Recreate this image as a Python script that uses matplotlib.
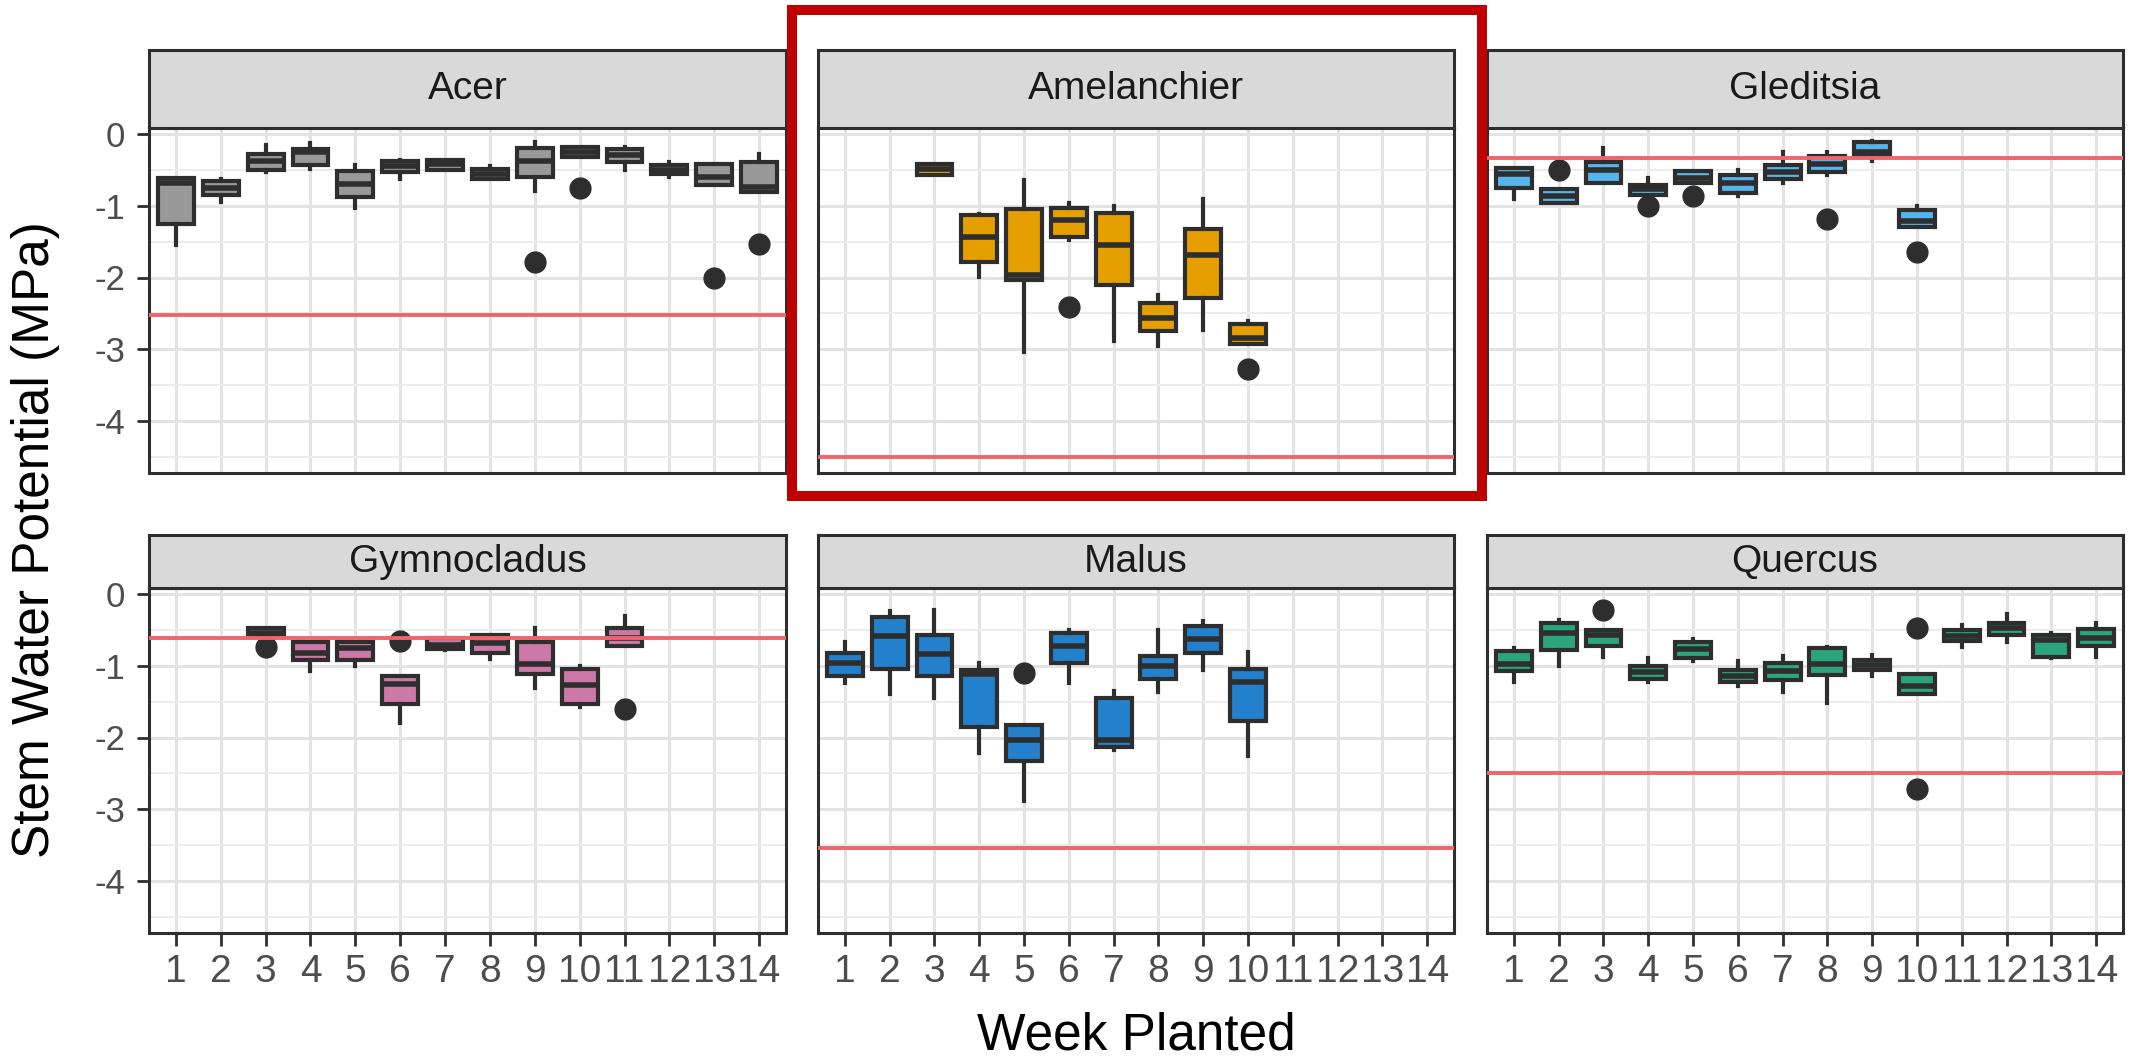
import matplotlib.pyplot as plt
from matplotlib.patches import Rectangle

# stem water potential by week planted, one facet per genus
# rows: (week, whisker low, q1, median, q3, whisker high)
acer = [
    (1, -1.55, -1.26, -0.68, -0.62, -0.62),
    (2, -0.95, -0.85, -0.75, -0.66, -0.63),
    (3, -0.53, -0.50, -0.38, -0.28, -0.16),
    (4, -0.49, -0.44, -0.26, -0.21, -0.13),
    (5, -1.03, -0.88, -0.70, -0.52, -0.44),
    (6, -0.63, -0.53, -0.45, -0.38, -0.37),
    (7, -0.50, -0.50, -0.42, -0.36, -0.36),
    (8, -0.63, -0.63, -0.56, -0.49, -0.45),
    (9, -0.80, -0.60, -0.38, -0.20, -0.12),
    (10, -0.32, -0.32, -0.25, -0.19, -0.19),
    (11, -0.51, -0.39, -0.30, -0.21, -0.19),
    (12, -0.60, -0.56, -0.50, -0.43, -0.39),
    (13, -0.71, -0.71, -0.60, -0.42, -0.42),
    (14, -0.81, -0.81, -0.74, -0.39, -0.28),
]
acer_out = [(9, -1.78), (10, -0.75), (13, -2.01), (14, -1.54)]

amelanchier = [
    (3, -0.57, -0.57, -0.49, -0.42, -0.42),
    (4, -1.99, -1.79, -1.44, -1.13, -1.11),
    (5, -3.03, -2.04, -1.97, -1.04, -0.65),
    (6, -1.48, -1.44, -1.20, -1.03, -0.97),
    (7, -2.89, -2.11, -1.55, -1.10, -1.00),
    (8, -2.95, -2.75, -2.57, -2.36, -2.25),
    (9, -2.73, -2.28, -1.69, -1.32, -0.91),
    (10, -2.93, -2.93, -2.84, -2.65, -2.61),
]
amelanchier_out = [(6, -2.41), (10, -3.27)]

gleditsia = [
    (1, -0.91, -0.76, -0.56, -0.48, -0.48),
    (2, -0.97, -0.97, -0.87, -0.77, -0.77),
    (3, -0.68, -0.68, -0.50, -0.39, -0.20),
    (4, -0.85, -0.85, -0.77, -0.71, -0.62),
    (5, -0.69, -0.69, -0.61, -0.52, -0.52),
    (6, -0.87, -0.83, -0.69, -0.57, -0.50),
    (7, -0.68, -0.63, -0.53, -0.43, -0.26),
    (8, -0.58, -0.53, -0.42, -0.31, -0.26),
    (9, -0.38, -0.30, -0.25, -0.12, -0.10),
    (10, -1.30, -1.30, -1.22, -1.06, -1.00),
]
gleditsia_out = [(2, -0.51), (4, -1.01), (5, -0.87), (8, -1.19), (10, -1.65)]

gymnocladus = [
    (3, -0.60, -0.60, -0.55, -0.48, -0.48),
    (4, -1.08, -0.92, -0.82, -0.67, -0.67),
    (5, -1.00, -0.92, -0.75, -0.67, -0.67),
    (6, -1.80, -1.54, -1.26, -1.15, -1.15),
    (7, -0.78, -0.77, -0.71, -0.62, -0.62),
    (8, -0.91, -0.82, -0.69, -0.57, -0.57),
    (9, -1.31, -1.11, -0.98, -0.67, -0.47),
    (10, -1.58, -1.54, -1.27, -1.05, -1.00),
    (11, -0.72, -0.72, -0.62, -0.48, -0.31),
]
gymnocladus_out = [(3, -0.74), (6, -0.66), (11, -1.60)]

malus = [
    (1, -1.24, -1.14, -0.97, -0.82, -0.67),
    (2, -1.40, -1.04, -0.59, -0.32, -0.24),
    (3, -1.45, -1.14, -0.84, -0.58, -0.22),
    (4, -2.21, -1.86, -1.12, -1.06, -0.97),
    (5, -2.88, -2.33, -2.03, -1.82, -1.82),
    (6, -1.24, -0.97, -0.72, -0.55, -0.51),
    (7, -2.18, -2.13, -2.03, -1.45, -1.35),
    (8, -1.37, -1.18, -1.01, -0.87, -0.51),
    (9, -1.06, -0.83, -0.63, -0.45, -0.38),
    (10, -2.26, -1.77, -1.23, -1.05, -0.81),
]
malus_out = [(5, -1.10)]

quercus = [
    (1, -1.23, -1.08, -0.98, -0.80, -0.76),
    (2, -1.01, -0.78, -0.55, -0.40, -0.37),
    (3, -0.88, -0.72, -0.57, -0.51, -0.51),
    (4, -1.23, -1.18, -1.09, -1.00, -0.90),
    (5, -0.94, -0.89, -0.77, -0.67, -0.63),
    (6, -1.29, -1.23, -1.14, -1.06, -0.94),
    (7, -1.37, -1.20, -1.08, -0.97, -0.86),
    (8, -1.52, -1.13, -0.98, -0.75, -0.74),
    (9, -1.14, -1.06, -0.99, -0.92, -0.85),
    (10, -1.40, -1.40, -1.28, -1.11, -1.11),
    (11, -0.74, -0.66, -0.59, -0.51, -0.44),
    (12, -0.67, -0.58, -0.48, -0.40, -0.28),
    (13, -0.89, -0.88, -0.65, -0.57, -0.55),
    (14, -0.88, -0.72, -0.61, -0.49, -0.41),
]
quercus_out = [(3, -0.23), (10, -0.48), (10, -2.72)]

genera = ["Acer", "Amelanchier", "Gleditsia", "Gymnocladus", "Malus", "Quercus"]
boxes = [acer, amelanchier, gleditsia, gymnocladus, malus, quercus]
outliers = [acer_out, amelanchier_out, gleditsia_out, gymnocladus_out, malus_out, quercus_out]
threshold = [-2.52, -4.50, -0.34, -0.61, -3.54, -2.50]
fills = ["#999999", "#E69F00", "#56B4E9", "#CC79A7", "#2380CC", "#2BA57D"]
weeks = list(range(1, 15))

W, H = 2141, 1059
DARK = "#2E2E2E"
plt.rcParams['font.family'] = ['Liberation Sans', 'DejaVu Sans']

fig = plt.figure(figsize=(W / 100, H / 100), dpi=100)


def frac(l, t, r, b):
    return [l / W, 1 - b / H, (r - l) / W, (b - t) / H]


cols = [(149, 786), (818, 1454), (1487, 2123)]
rows = [(128, 473), (588, 933)]
strips = [(50, 128), (535, 588)]

for i, name in enumerate(genera):
    r, c = divmod(i, 3)
    l, rr = cols[c]
    ax = fig.add_axes(frac(l, rows[r][0], rr, rows[r][1]))

    stats = []
    pos = []
    for wk, lo, q1, med, q3, hi in boxes[i]:
        fl = [v for w, v in outliers[i] if w == wk]
        stats.append(dict(whislo=lo, q1=q1, med=med, q3=q3, whishi=hi, fliers=fl))
        pos.append(wk)
    ax.bxp(stats, positions=pos, widths=0.8, patch_artist=True, showcaps=False,
           boxprops=dict(facecolor=fills[i], edgecolor=DARK, linewidth=3.0),
           whiskerprops=dict(color=DARK, linewidth=3.0),
           medianprops=dict(color=DARK, linewidth=4.0),
           flierprops=dict(marker='o', markerfacecolor=DARK, markeredgecolor=DARK,
                           markersize=15))
    ax.axhline(threshold[i], color="#F0646A", lw=2.8, zorder=5)

    ax.set_xlim(0.4, 14.6)
    ax.set_ylim(-4.72, 0.08)
    ax.set_xticks(weeks)
    ax.set_xticklabels([str(w) for w in weeks])
    ax.set_yticks([0, -1, -2, -3, -4])
    ax.set_yticklabels(["0", "-1", "-2", "-3", "-4"])
    ax.set_yticks([-0.5, -1.5, -2.5, -3.5, -4.5], minor=True)
    ax.grid(True, which='major', color="#E3E3E3", lw=2.2)
    ax.grid(True, which='minor', axis='y', color="#ECECEC", lw=1.4)
    ax.set_axisbelow(True)
    for s in ax.spines.values():
        s.set_color(DARK)
        s.set_linewidth(2.2)

    ax.tick_params(which='minor', length=0)
    ax.tick_params(axis='y', length=9, width=2.0, color=DARK, labelsize=25,
                   labelcolor="#4D4D4D", pad=8)
    ax.tick_params(axis='x', length=9, width=2.0, color=DARK, labelsize=28,
                   labelcolor="#4D4D4D", pad=6)
    if c != 0:
        ax.tick_params(axis='y', left=False, labelleft=False)
    if r == 0:
        ax.tick_params(axis='x', bottom=False, labelbottom=False)

    # facet strip
    sax = fig.add_axes(frac(l, strips[r][0], rr, strips[r][1]))
    sax.set_facecolor("#D9D9D9")
    sax.set_xticks([])
    sax.set_yticks([])
    for s in sax.spines.values():
        s.set_color(DARK)
        s.set_linewidth(2.2)
    sax.text(0.5, 0.5, name, ha='center', va='center', fontsize=28,
             color="#1A1A1A", transform=sax.transAxes)

fig.text(1136 / W, 1 - 1036 / H, "Week Planted", ha='center', va='center',
         fontsize=37)
fig.text(36 / W, 1 - 540 / H, "Stem Water Potential (MPa)", ha='center',
         va='center', rotation=90, fontsize=37)

# highlight around the Amelanchier facet
fig.add_artist(Rectangle((792 / W, 1 - 496 / H), (1482 - 792) / W, (496 - 10) / H,
                         transform=fig.transFigure, fill=False,
                         edgecolor="#C00000", linewidth=7.2))

fig.savefig("out.png", dpi=100)
